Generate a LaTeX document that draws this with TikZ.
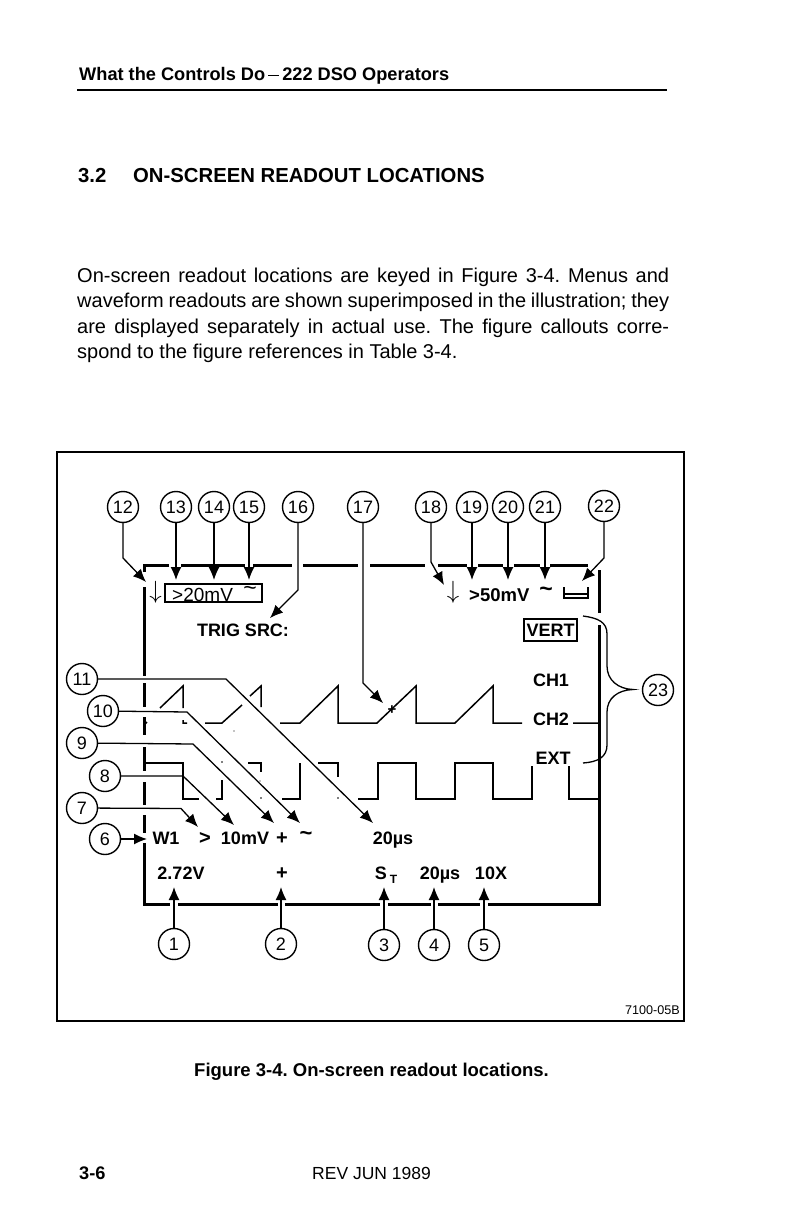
\documentclass[tikz,border=0pt]{standalone}
\usepackage{fontspec}
\setmainfont{Liberation Sans}
\usetikzlibrary{arrows.meta}
\tikzset{
  x=1pt,y=-1pt,
  callout/.style={circle,draw,line width=1.4pt,minimum size=31pt,inner sep=0pt,font=\fontsize{18}{20}\selectfont},
  lead/.style={line width=1.3pt,-{Latex[length=13pt,width=11pt]}},
  screen/.style={line width=3pt},
  wave/.style={line width=1.5pt},
  capbox/.style={text height=13pt,text depth=0pt},
  rd/.style={capbox,font=\fontsize{18}{20}\bfseries\selectfont,inner sep=0pt},
  rdn/.style={capbox,font=\fontsize{19}{20}\selectfont,inner sep=0pt},
  bodyline/.style={anchor=base west,inner sep=0pt,font=\fontsize{20}{24}\selectfont},
  headline/.style={anchor=base west,inner sep=0pt,font=\fontsize{20.3}{24}\bfseries\selectfont},
  small/.style={anchor=base west,inner sep=0pt,font=\fontsize{18.2}{22}\bfseries\selectfont},
}
\begin{document}
\frenchspacing
\begin{tikzpicture}
\useasboundingbox (0,0) rectangle (790,1222);
% page header
\node[small] (hdr) at (79,81) {What the Controls Do\,\rule[5pt]{11pt}{1.4pt}\,222 DSO Operators};
\draw[line width=2pt] (77,90.5) -- (667,90.5);
\node[headline] (secn) at (78,183) {3.2};
\node[headline] (sect) at (133,183) {ON-SCREEN READOUT LOCATIONS};
\node[bodyline] (p1) at (77,283) {\hbox to 592pt{On-screen readout locations are keyed in Figure 3-4. Menus and}};
\node[bodyline] (p2) at (77,308) {\hbox to 592pt{waveform readouts are shown superimposed in the illustration; they}};
\node[bodyline] (p3) at (77,333) {\hbox to 592pt{are displayed separately in actual use. The figure callouts corre-}};
\node[bodyline] (p4) at (77,358) {spond to the figure references in Table 3-4.};
% frame
\draw[line width=1.4pt] (57,452) rectangle (684,1021);
\node[inner sep=0pt,anchor=base east,font=\fontsize{12.6}{14}\selectfont] (code) at (680,1014) {7100-05B};
% screen outline
\draw[screen] (144,587) -- (144,676) (144,683) -- (144,707) (144,717) -- (144,735) (144,747) -- (144,771)
  (144,782) -- (144,805) (144,815) -- (144,833) (144,843) -- (144,904) -- (170,904)
  (178,904) -- (278,904) (285,904) -- (380,904) (388,904) -- (431,904) (438,904) -- (480,904) (488,904) -- (599,904) -- (599,625)
  (599,613) -- (599,570);
\draw[screen] (144,572) -- (144,565) -- (169,565) (181,565) -- (245,565) (253,565) -- (292,565) (303,565) -- (358,565)
  (370,565) -- (425,565) (438,565) -- (467,565) (478,565) -- (503,565) (514,565) -- (540,565) (550,565) -- (588,565);
% sawtooth
\draw[wave] (145,724) -- (147,722) (160,708) -- (183,686) -- (183,708)
  (183,720) -- (183,723) -- (187,723) (205,723) -- (222,723) -- (242,705) (250,696) -- (261,686) -- (261,707)
  (280,723) -- (300,723) -- (338,686) -- (338,723) -- (377,723) -- (416,686) -- (416,723) -- (455,723) -- (493,686) -- (493,723) -- (522,723)
  (573,723) -- (599,723);
% square wave
\draw[wave] (145,763) -- (183,763) -- (183,799) -- (199,799) (216,799) -- (222,799) -- (222,780)
  (248,763) -- (261,763) -- (261,772) (282,799) -- (300,799) -- (300,763)
  (318,763) -- (338,763) -- (338,777) (358,799) -- (378,799) -- (378,763) -- (416,763) -- (416,799) -- (455,799) -- (455,763) -- (493,763) -- (493,799) -- (532,799) -- (532,766)
  (569,766) -- (569,799) -- (599,799);
\fill (222,762) circle (.9) (261,798) circle (.9) (338,798) circle (.9) (234,731) circle (.6) (260,781) circle (.6);
% readouts, top
\node[inner sep=0pt,font=\fontsize{23}{24}\selectfont] (ra) at (155.5,592) {$\downarrow$};
\draw[line width=1.2pt] (165,584) rectangle (262,602);
\node[inner sep=0pt,anchor=base west,font=\fontsize{19}{20}\selectfont] (rb) at (172,601) {>20mV};
\node[rdn,font=\fontsize{23}{24}\selectfont] (rc) at (250,589) {\char"007E};
\node[rd] (trig) at (243,630) {TRIG SRC:};
\node[inner sep=0pt,font=\fontsize{23}{24}\selectfont] (rd) at (453,592) {$\downarrow$};
\node[inner sep=0pt,anchor=base west,font=\fontsize{18.5}{20}\bfseries\selectfont] (re) at (469,601) {>50mV};
\node[rdn,font=\fontsize{23}{24}\bfseries\selectfont] (rf) at (546,590) {\char"007E};
\draw[line width=1.2pt] (564,587) -- (564,598) -- (588,598) -- (588,587) (564,594) -- (588,594);
\node[rd,draw,line width=1.4pt,minimum width=53pt,minimum height=22pt] (vert) at (550.5,630) {VERT};
\node[rd] (ch1) at (551,680) {CH1};
\node[rd] (ch2) at (551,719) {CH2};
\node[rd] (ext) at (553,758) {EXT};
\node[rd] (w1) at (166,838) {W1};
\node[rd,font=\fontsize{20}{20}\bfseries\selectfont] (gt) at (205,838) {>};
\node[rd] (mv) at (245,838) {10mV};
\node[rd,font=\fontsize{20}{20}\bfseries\selectfont] (pl) at (282,838) {+};
\node[rd,font=\fontsize{22}{22}\bfseries\selectfont] (tl) at (306,834) {\char"007E};
\node[rd] (us) at (393,838) {20µs};
\node[rd] (volt) at (181,873) {2.72V};
\node[rd,font=\fontsize{20}{20}\bfseries\selectfont] (pl2) at (282,873) {+};
\node[rd] (st) at (386,873) {S\,\raisebox{-4pt}{\fontsize{12}{13}\selectfont T}};
\node[rd] (us2) at (440,873) {20µs};
\node[rd] (tenx) at (491,873) {10X};
\node[rd,font=\fontsize{15}{15}\bfseries\selectfont] (star) at (392,708) {+};
% callouts
\foreach \n/\x/\y in {1/174/944,2/281/944,3/384/945,4/434/945,5/484/945,6/105/839,7/82/808,8/105/776,9/82/743,10/103/711,11/82/679,12/123/507,13/176/507,14/214/507,15/249/507,16/298/507,17/363/507,18/431/507,19/472/507,20/508/507,21/545/507,22/604/506,23/658/690}
  \node[callout] (c\n) at (\x,\y) {\n};
% leaders
\foreach \n/\x/\y in {1/174/887,2/281/887,3/384/887,4/434/887,5/484/887,13/176/580,14/214/580,15/249/580,19/472/580,20/508/580,21/545/580}{
  \coordinate (t\n) at (\x,\y);
  \draw[lead] (c\n) -- (t\n);
}
\coordinate (t6) at (147,839); \draw[lead] (c6) -- (t6);
\coordinate (t7) at (198,827); \draw[lead] (c7) -- (181,808.5) -- (t7);
\coordinate (t8) at (234,825); \draw[lead] (c8) -- (183,776) -- (t8);
\coordinate (t9) at (274,823); \draw[lead] (c9) -- (193,744) -- (t9);
\coordinate (t10) at (300,823); \draw[lead] (c10) -- (187,712) -- (t10);
\coordinate (t11) at (373,823); \draw[lead] (c11) -- (226,679) -- (t11);
\coordinate (t12) at (146,582); \draw[lead] (c12) -- (123,558) -- (t12);
\coordinate (t16) at (270,618); \draw[lead] (c16) -- (298,590) -- (t16);
\coordinate (t17) at (383,703); \draw[lead] (c17) -- (363,683) -- (t17);
\coordinate (t18) at (444,585); \draw[lead] (c18) -- (431,562) -- (t18);
\coordinate (t22) at (582,581); \draw[lead] (c22) -- (604,558) -- (t22);
% brace
\coordinate (b1) at (583,616); \coordinate (b2) at (583,763); \coordinate (b3) at (633,689.5);
\draw[line width=1.3pt] (b1) .. controls (598,618) and (607,622) .. (607,634) -- (607,666)
  .. controls (607,680) and (618,689) .. (b3) .. controls (618,690) and (607,698) .. (607,712) -- (607,745)
  .. controls (607,757) and (598,762) .. (b2);
% footer
\node[bodyline,font=\fontsize{18.5}{22}\bfseries\selectfont] (cap) at (194,1076) {Figure 3-4. On-screen readout locations.};
\node[small] (pg) at (79,1179) {3-6};
\node[anchor=base west,inner sep=0pt,font=\fontsize{17.5}{20}\selectfont] (rev) at (312,1179) {REV JUN 1989};
\end{tikzpicture}
\end{document}
